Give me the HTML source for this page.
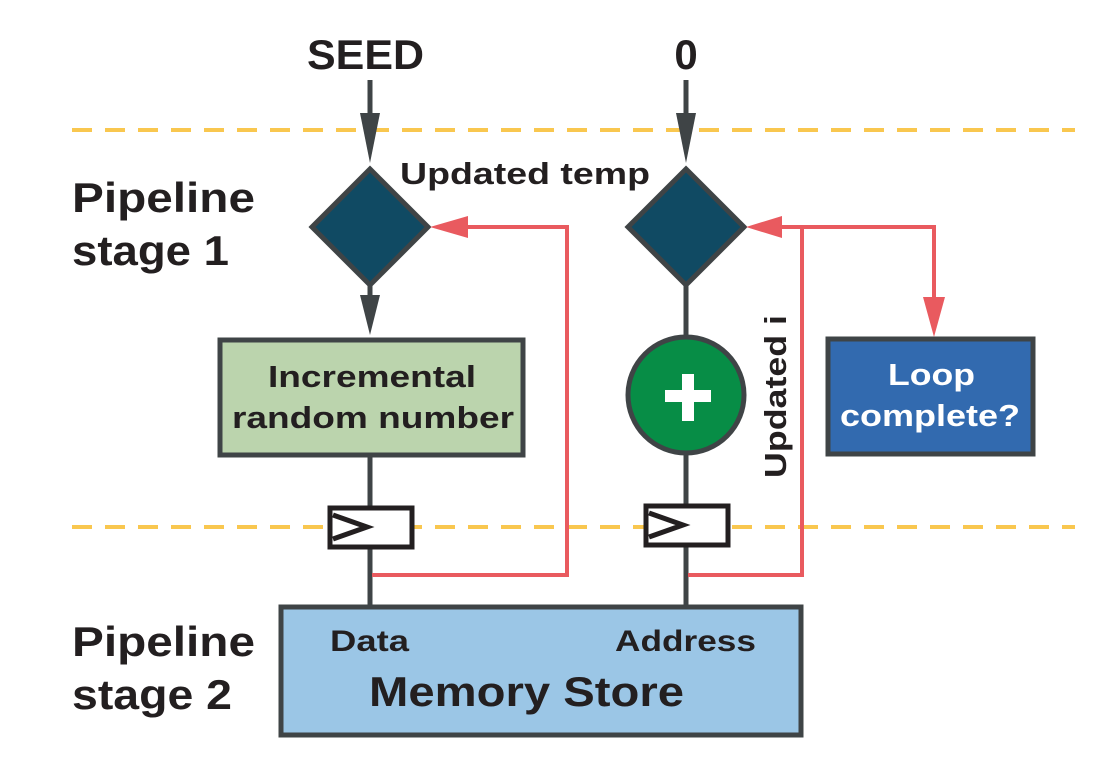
<!DOCTYPE html>
<html><head><style>
body{margin:0;background:#fff;}
svg text{font-family:"Liberation Sans",sans-serif;font-weight:bold;fill:#231f20;}
</style></head><body>
<svg width="1106" height="773" viewBox="0 0 1106 773" xmlns="http://www.w3.org/2000/svg">
<g stroke="#f9c74f" stroke-width="4" stroke-dasharray="20 13">
<line x1="72" y1="130" x2="1075" y2="130"/>
<line x1="72" y1="527" x2="1075" y2="527"/>
</g>
<text x="307" y="69" font-size="42" textLength="117" lengthAdjust="spacingAndGlyphs">SEED</text>
<text x="686" y="69" font-size="42" text-anchor="middle">0</text>
<text x="72" y="212" font-size="42" textLength="183" lengthAdjust="spacingAndGlyphs">Pipeline</text>
<text x="72" y="265" font-size="42" textLength="157" lengthAdjust="spacingAndGlyphs">stage 1</text>
<text x="72" y="656" font-size="42" textLength="183" lengthAdjust="spacingAndGlyphs">Pipeline</text>
<text x="72" y="709" font-size="42" textLength="160" lengthAdjust="spacingAndGlyphs">stage 2</text>
<text x="400" y="184" font-size="31" textLength="250" lengthAdjust="spacingAndGlyphs">Updated temp</text>
<g stroke="#3f4446" stroke-width="5" fill="none">
<line x1="370" y1="80" x2="370" y2="130"/>
<line x1="686" y1="80" x2="686" y2="130"/>
<line x1="370" y1="286" x2="370" y2="300"/>
<line x1="370" y1="456" x2="370" y2="605"/>
<line x1="686" y1="286" x2="686" y2="605"/>
</g>
<g fill="#3f4446">
<polygon points="360,113 380,113 370,163"/>
<polygon points="676,113 696,113 686,163"/>
<polygon points="360,295 380,295 370,335"/>
</g>
<g fill="#104a63" stroke="#3f4446" stroke-width="5">
<polygon points="370,169 428,227 370,285 312,227"/>
<polygon points="686,169 744,227 686,285 628,227"/>
</g>
<rect x="220" y="340" width="303" height="115" fill="#bbd4ad" stroke="#3f4446" stroke-width="5"/>
<text x="268" y="387" font-size="31" textLength="208" lengthAdjust="spacingAndGlyphs">Incremental</text>
<text x="232" y="428" font-size="31" textLength="282" lengthAdjust="spacingAndGlyphs">random number</text>
<circle cx="686" cy="395" r="58" fill="#078d46" stroke="#3f4446" stroke-width="5"/>
<rect x="665" y="390" width="46" height="12" fill="#fff"/>
<rect x="682" y="374" width="12" height="47" fill="#fff"/>
<rect x="828" y="339" width="205" height="115" fill="#326aaf" stroke="#3f4446" stroke-width="5"/>
<text x="888" y="385" font-size="31" textLength="87" lengthAdjust="spacingAndGlyphs" style="fill:#fff">Loop</text>
<text x="840" y="426" font-size="31" textLength="180" lengthAdjust="spacingAndGlyphs" style="fill:#fff">complete?</text>
<text transform="translate(786,478) rotate(-90)" font-size="31" textLength="163" lengthAdjust="spacingAndGlyphs">Updated i</text>
<g fill="#fff" stroke="#231f20" stroke-width="5">
<rect x="330" y="508" width="82" height="39"/>
<rect x="646" y="506" width="82" height="39"/>
</g>
<g fill="none" stroke="#231f20" stroke-width="5">
<polyline points="333,515 367,527 333,539"/>
<polyline points="649,513 683,525 649,537"/>
</g>
<g stroke="#e95a5f" stroke-width="4" fill="none">
<polyline points="372,575 567,575 567,227 460,227"/>
<polyline points="688,575 802,575 802,227 775,227"/>
<polyline points="802,227 934,227 934,305"/>
</g>
<g fill="#e95a5f">
<polygon points="430,227 468,216 468,238"/>
<polygon points="746,227 782,216 782,238"/>
<polygon points="934,337 923,297 945,297"/>
</g>
<rect x="281" y="607" width="520" height="128" fill="#9bc6e6" stroke="#3f4446" stroke-width="5"/>
<text x="330" y="651" font-size="30" textLength="79" lengthAdjust="spacingAndGlyphs">Data</text>
<text x="615" y="651" font-size="30" textLength="141" lengthAdjust="spacingAndGlyphs">Address</text>
<text x="369" y="706" font-size="42" textLength="315" lengthAdjust="spacingAndGlyphs">Memory Store</text>
</svg>
</body></html>
